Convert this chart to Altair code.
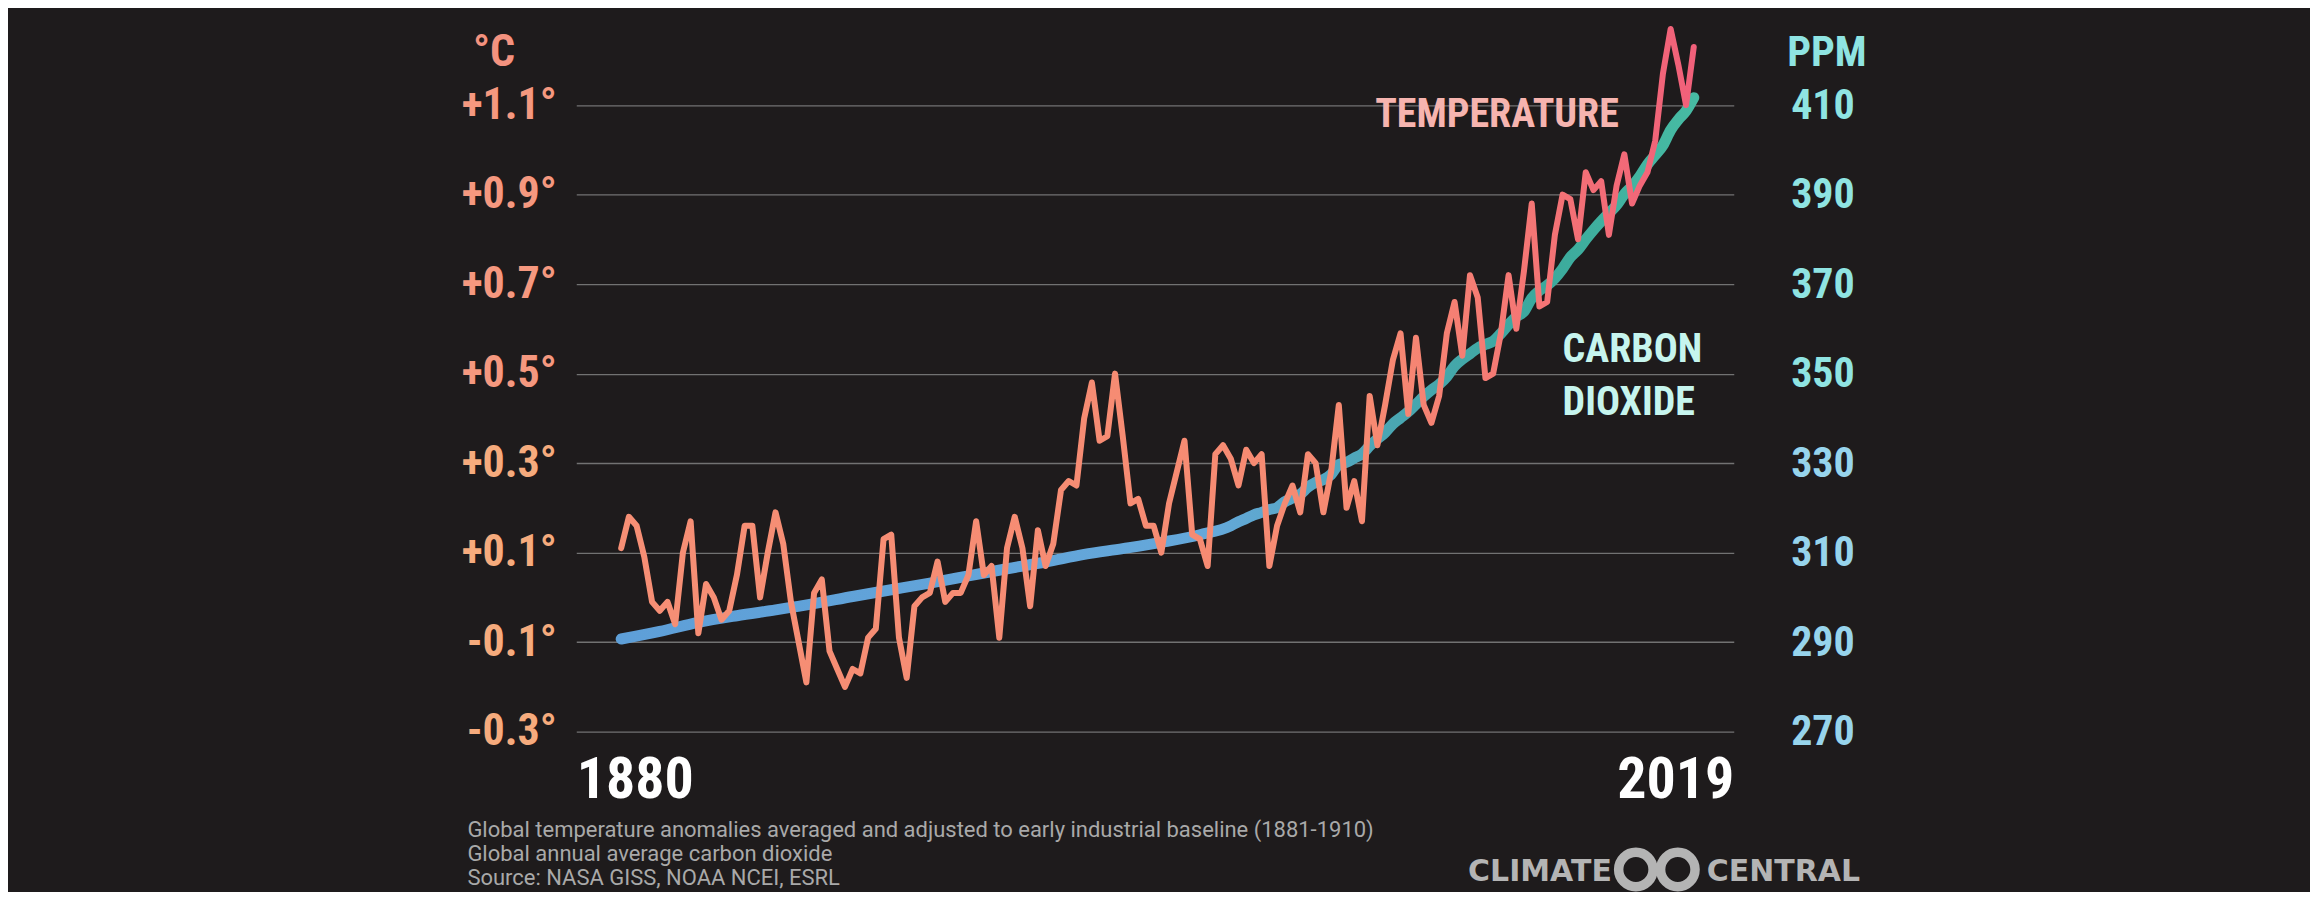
import altair as alt
import pandas as pd

# ---------------- data ----------------
YEARS = list(range(1880, 2020))
TEMP_ANOMALY = [
    0.11, 0.18, 0.16, 0.09, -0.01, -0.03, -0.01, -0.06, 0.10, 0.17,   # 1880s
    -0.08, 0.03, 0.00, -0.05, -0.03, 0.05, 0.16, 0.16, 0.00, 0.10,    # 1890s
    0.19, 0.12, -0.01, -0.10, -0.19, 0.01, 0.04, -0.12, -0.16, -0.20, # 1900s
    -0.16, -0.17, -0.09, -0.07, 0.13, 0.14, -0.09, -0.18, -0.02, 0.00, # 1910s
    0.01, 0.08, -0.01, 0.01, 0.01, 0.05, 0.17, 0.05, 0.07, -0.09,     # 1920s
    0.11, 0.18, 0.11, -0.02, 0.15, 0.07, 0.12, 0.24, 0.26, 0.25,      # 1930s
    0.40, 0.48, 0.35, 0.36, 0.50, 0.36, 0.21, 0.22, 0.16, 0.16,       # 1940s
    0.10, 0.21, 0.28, 0.35, 0.14, 0.13, 0.07, 0.32, 0.34, 0.31,       # 1950s
    0.25, 0.33, 0.30, 0.32, 0.07, 0.16, 0.21, 0.25, 0.19, 0.32,       # 1960s
    0.30, 0.19, 0.28, 0.43, 0.20, 0.26, 0.17, 0.45, 0.34, 0.43,       # 1970s
    0.53, 0.59, 0.41, 0.58, 0.43, 0.39, 0.45, 0.59, 0.66, 0.54,       # 1980s
    0.72, 0.67, 0.49, 0.50, 0.59, 0.72, 0.60, 0.73, 0.88, 0.65,       # 1990s
    0.66, 0.81, 0.90, 0.89, 0.80, 0.95, 0.91, 0.93, 0.81, 0.92,       # 2000s
    0.99, 0.88, 0.92, 0.95, 1.02, 1.17, 1.27, 1.19, 1.10, 1.23,       # 2010s
]
CO2_YEARS = [
    1880, 1885, 1890, 1895, 1900, 1905, 1910, 1915, 1920, 1925, 1930, 1935,
    1940, 1945, 1950, 1955,
    1959, 1960, 1961, 1962, 1963, 1964, 1965, 1966, 1967, 1968, 1969,
    1970, 1971, 1972, 1973, 1974, 1975, 1976, 1977, 1978, 1979,
    1980, 1981, 1982, 1983, 1984, 1985, 1986, 1987, 1988, 1989,
    1990, 1991, 1992, 1993, 1994, 1995, 1996, 1997, 1998, 1999,
    2000, 2001, 2002, 2003, 2004, 2005, 2006, 2007, 2008, 2009,
    2010, 2011, 2012, 2013, 2014, 2015, 2016, 2017, 2018, 2019,
]
CO2_PPM = [
    290.7, 292.4, 294.4, 295.9, 297.2, 298.6, 300.2, 301.7, 303.2, 304.8, 306.4, 307.9,
    309.6, 310.9, 312.3, 314.0,
    315.98, 316.91, 317.64, 318.45, 318.99, 319.62, 320.04, 321.37, 322.18, 323.05, 324.62,
    325.68, 326.32, 327.46, 329.68, 330.19, 331.13, 332.03, 333.84, 335.41, 336.84,
    338.76, 340.12, 341.48, 343.15, 344.87, 346.35, 347.61, 349.31, 351.69, 353.20,
    354.45, 355.70, 356.54, 357.21, 358.96, 360.97, 362.74, 363.88, 366.84, 368.54,
    369.71, 371.32, 373.45, 375.98, 377.70, 379.98, 382.09, 384.02, 385.83, 387.64,
    390.10, 391.85, 394.06, 396.74, 398.81, 401.01, 404.41, 406.76, 408.72, 411.66,
]
TEMP_TICKS = [-0.3, -0.1, 0.1, 0.3, 0.5, 0.7, 0.9, 1.1]
PPM_TICKS = [270, 290, 310, 330, 350, 370, 390, 410]
TEMP_UNIT = "°C"
PPM_UNIT = "PPM"
SERIES_LABELS = ["TEMPERATURE", "CARBON", "DIOXIDE"]
FOOTNOTE = [
    "Global temperature anomalies averaged and adjusted to early industrial baseline (1881-1910)",
    "Global annual average carbon dioxide",
    "Source: NASA GISS,  NOAA NCEI, ESRL",
]
LOGO_WORDS = ["CLIMATE", "CENTRAL"]

assert len(YEARS) == len(TEMP_ANOMALY)
assert len(CO2_YEARS) == len(CO2_PPM)

# ---------------- styling / layout ----------------
BG = "#1E1B1C"
NARROW = ("'Roboto Condensed', 'Noto Sans ExtraCondensed', 'Noto Sans Condensed', "
          "'Liberation Sans Narrow', 'DejaVu Sans Condensed', sans-serif")
BODY = "Roboto, 'Liberation Sans', sans-serif"
WIDE = "'DejaVu Sans', sans-serif"
W, H = 1159, 717
X_DOMAIN = [1874.18, 2024.18]
T_DOMAIN = [-0.3, 1.3]
P_DOMAIN = [270, 430]

temp_df = pd.DataFrame({"year": YEARS, "anomaly": TEMP_ANOMALY})
co2_df = pd.DataFrame({"year": CO2_YEARS, "ppm": CO2_PPM})
label_df = pd.DataFrame({
    "text": SERIES_LABELS,
    "year": [1993.5, 2002.0, 2002.0],
    "anomaly": [1.052, 0.525, 0.407],
    "kind": ["t", "c", "c"],
})

x_scale = alt.Scale(domain=X_DOMAIN, nice=False, zero=False)
mid = (X_DOMAIN[0] + X_DOMAIN[1]) / 2
x_axis = alt.Axis(
    values=X_DOMAIN,
    labelExpr=f"datum.value < {mid} ? '{YEARS[0]}' : '{YEARS[-1]}'",
    labelFlush=True, domain=False, ticks=False, grid=False,
    labelFont=NARROW, labelFontSize=58, labelFontWeight="bold",
    labelColor="#FFFFFF", labelPadding=20, labelBaseline="top", title=None,
)

left_axis = alt.Axis(
    orient="left", values=TEMP_TICKS,
    labelExpr="(datum.value < 0 ? '-' : '+') + format(abs(datum.value), '.1f') + '°'",
    grid=True, gridColor="#727272", gridWidth=1.3,
    domain=False, ticks=False, tickSize=0, labelPadding=20,
    labelFont=NARROW, labelFontSize=44, labelFontWeight="bold",
    labelColor={"condition": {"test": "datum.value >= 0.4", "value": "#F5987F"}, "value": "#F6AB7D"},
    labelBaseline="middle",
    title=TEMP_UNIT, titleAngle=0, titleAlign="left", titleBaseline="alphabetic",
    titleX=-104, titleY=50, titleFont=NARROW, titleFontSize=44, titleFontWeight="bold",
    titleColor="#F4927F",
)
right_axis = alt.Axis(
    orient="right", values=PPM_TICKS, format="d",
    grid=False, domain=False, ticks=False, tickSize=0, labelPadding=57,
    labelFont=NARROW, labelFontSize=42, labelFontWeight="bold", labelAlign="left",
    labelColor={"condition": {"test": "datum.value >= 340", "value": "#8FE4E2"}, "value": "#97D4EC"},
    labelBaseline="middle",
    title=PPM_UNIT, titleAngle=0, titleAlign="left", titleBaseline="alphabetic",
    titleX=53, titleY=50, titleFont=NARROW, titleFontSize=42, titleFontWeight="bold",
    titleColor="#8FE4E2",
)

TEMP_GRADIENT = {
    "gradient": "linear", "x1": 0, "y1": 0, "x2": 1, "y2": 0,
    "stops": [
        {"offset": 0.0, "color": "#F68F75"},
        {"offset": 0.70, "color": "#F68A72"},
        {"offset": 0.86, "color": "#F47475"},
        {"offset": 1.0, "color": "#F1607A"},
    ],
}
CO2_GRADIENT = {
    "gradient": "linear", "x1": 0, "y1": 0, "x2": 1, "y2": 0,
    "stops": [
        {"offset": 0.0, "color": "#5E9FD8"},
        {"offset": 0.55, "color": "#65A8DA"},
        {"offset": 0.72, "color": "#4AA6B2"},
        {"offset": 0.86, "color": "#3BA99C"},
        {"offset": 1.0, "color": "#47BBA3"},
    ],
}

co2_layer = alt.Chart(co2_df).mark_line(
    stroke=CO2_GRADIENT, strokeWidth=11, strokeCap="round", strokeJoin="round",
    interpolate="monotone",
).encode(
    x=alt.X("year:Q", scale=x_scale, axis=x_axis),
    y=alt.Y("ppm:Q", scale=alt.Scale(domain=P_DOMAIN, nice=False, zero=False), axis=right_axis),
)

temp_layer = alt.Chart(temp_df).mark_line(
    stroke=TEMP_GRADIENT, strokeWidth=6, strokeJoin="round", strokeCap="round",
).encode(
    x=alt.X("year:Q", scale=x_scale, axis=x_axis),
    y=alt.Y("anomaly:Q", scale=alt.Scale(domain=T_DOMAIN, nice=False, zero=False), axis=left_axis),
)

text_t = alt.Chart(label_df).transform_filter("datum.kind == 't'").mark_text(
    font=NARROW, fontSize=40, fontWeight="bold", color="#F6B4AF",
    align="center", baseline="alphabetic",
).encode(
    x=alt.X("year:Q", scale=x_scale, axis=x_axis),
    y=alt.Y("anomaly:Q", scale=alt.Scale(domain=T_DOMAIN, nice=False, zero=False), axis=None),
    text="text:N",
)
text_c = alt.Chart(label_df).transform_filter("datum.kind == 'c'").mark_text(
    font=NARROW, fontSize=40, fontWeight="bold", color="#C6F5EE",
    align="left", baseline="alphabetic",
).encode(
    x=alt.X("year:Q", scale=x_scale, axis=x_axis),
    y=alt.Y("anomaly:Q", scale=alt.Scale(domain=T_DOMAIN, nice=False, zero=False), axis=None),
    text="text:N",
)

# footnote below the plot
foot_df = pd.DataFrame({"t": ["\n".join(FOOTNOTE)]})
footnote = alt.Chart(foot_df).mark_text(
    font=BODY, fontSize=22, color="#A9A9A9", align="left", baseline="alphabetic",
    lineBreak="\n", lineHeight=24,
).encode(text="t:N", x=alt.value(-109), y=alt.value(823))

LOGO_GRAY = "#B4B4B4"
logo_df = pd.DataFrame({"w": LOGO_WORDS})
logo_left = alt.Chart(logo_df).transform_filter(f"datum.w == '{LOGO_WORDS[0]}'").mark_text(
    font=WIDE, fontSize=30, fontWeight="bold", color=LOGO_GRAY, align="left", baseline="alphabetic",
).encode(text="w:N", x=alt.value(893), y=alt.value(867))
logo_right = alt.Chart(logo_df).transform_filter(f"datum.w == '{LOGO_WORDS[1]}'").mark_text(
    font=WIDE, fontSize=30, fontWeight="bold", color=LOGO_GRAY, align="left", baseline="alphabetic",
).encode(text="w:N", x=alt.value(1132), y=alt.value(867))
ring1 = alt.Chart(logo_df).transform_filter(f"datum.w == '{LOGO_WORDS[0]}'").mark_point(
    shape="circle", filled=False, size=1190, strokeWidth=9.5, stroke=LOGO_GRAY, opacity=1,
).encode(x=alt.value(1061), y=alt.value(855))
ring2 = alt.Chart(logo_df).transform_filter(f"datum.w == '{LOGO_WORDS[0]}'").mark_point(
    shape="circle", filled=False, size=1190, strokeWidth=9.5, stroke=LOGO_GRAY, opacity=1,
).encode(x=alt.value(1103), y=alt.value(855))

chart = alt.layer(
    co2_layer, temp_layer, text_t, text_c, footnote, logo_left, logo_right, ring1, ring2,
).resolve_scale(
    y="independent"
).properties(
    width=W, height=H,
    autosize=alt.AutoSizeParams(type="none"),
    padding={"left": 569, "top": 7, "right": 577, "bottom": 160},
    background=BG,
).configure_view(stroke=None)

chart.save("out.html", embed_options={"renderer": "svg", "actions": False})
